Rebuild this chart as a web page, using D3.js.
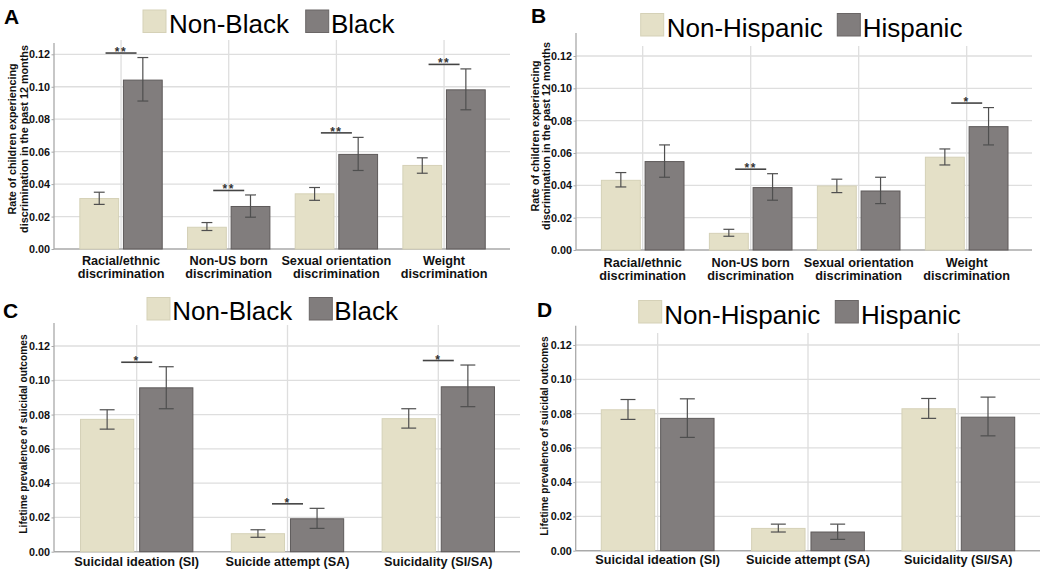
<!DOCTYPE html>
<html>
<head>
<meta charset="utf-8">
<script src="https://cdn.jsdelivr.net/npm/d3@7"></script>
<style>
  html, body { margin: 0; padding: 0; background: #fff; }
  svg { display: block; font-family: "Liberation Sans", Arial, Helvetica, sans-serif; }
</style>
</head>
<body>
<svg id="chart" width="1050" height="575"></svg>
<script>
// ---------------- DATA ----------------
const yTicks = [0, 0.02, 0.04, 0.06, 0.08, 0.10, 0.12];

const catsDiscrim = [
  ["Racial/ethnic", "discrimination"],
  ["Non-US born", "discrimination"],
  ["Sexual orientation", "discrimination"],
  ["Weight", "discrimination"]
];
const catsSuicide = [
  ["Suicidal ideation (SI)"],
  ["Suicide attempt (SA)"],
  ["Suicidality (SI/SA)"]
];

const seriesBlack = ["Non-Black", "Black"];
const seriesHisp = ["Non-Hispanic", "Hispanic"];

// Panel A
const aNonBlack    = [0.0311, 0.0134, 0.0340, 0.0515];
const aNonBlackLo  = [0.0275, 0.0114, 0.0300, 0.0467];
const aNonBlackHi  = [0.0350, 0.0163, 0.0379, 0.0562];
const aBlack       = [0.1041, 0.0262, 0.0583, 0.0981];
const aBlackLo     = [0.0912, 0.0196, 0.0484, 0.0858];
const aBlackHi     = [0.1180, 0.0333, 0.0688, 0.1110];
const aSig         = ["**", "**", "**", "**"];

// Panel B
const bNonHisp     = [0.0431, 0.0103, 0.0396, 0.0574];
const bNonHispLo   = [0.0390, 0.0085, 0.0355, 0.0526];
const bNonHispHi   = [0.0479, 0.0128, 0.0438, 0.0625];
const bHisp        = [0.0547, 0.0386, 0.0365, 0.0763];
const bHispLo      = [0.0450, 0.0308, 0.0287, 0.0650];
const bHispHi      = [0.0650, 0.0472, 0.0450, 0.0881];
const bSig         = ["", "**", "", "*"];

// Panel C
const cNonBlack    = [0.0772, 0.0105, 0.0776];
const cNonBlackLo  = [0.0715, 0.0084, 0.0721];
const cNonBlackHi  = [0.0828, 0.0128, 0.0834];
const cBlack       = [0.0956, 0.0192, 0.0962];
const cBlackLo     = [0.0834, 0.0136, 0.0846];
const cBlackHi     = [0.1079, 0.0253, 0.1089];
const cSig         = ["*", "*", "*"];

// Panel D
const dNonHisp     = [0.0822, 0.0130, 0.0828];
const dNonHispLo   = [0.0766, 0.0109, 0.0772];
const dNonHispHi   = [0.0882, 0.0155, 0.0888];
const dHisp        = [0.0772, 0.0109, 0.0779];
const dHispLo      = [0.0661, 0.0066, 0.0670];
const dHispHi      = [0.0886, 0.0155, 0.0896];
const dSig         = ["", "", ""];

const yTitleDiscrim = ["Rate of children experiencing", "discrimination in the past 12 months"];
const yTitleSuicide = ["Lifetime prevalence of suicidal outcomes"];

// ---------------- STYLE ----------------
const COL_LIGHT = "#e4e0c7", COL_LIGHT_STROKE = "#d5d1b7";
const COL_DARK = "#817d7d", COL_DARK_STROKE = "#5e5a5a";
const GRID = "#dedede", AXIS = "#a9a9a9", ERR = "#4f4f4f";

const svg = d3.select("#chart");

function build(vals, lo, hi) {
  return vals.map((v, i) => ({ v: v, lo: lo[i], hi: hi[i] }));
}

function drawPanel(p) {
  const g = svg.append("g");
  const y = d3.scaleLinear().domain([0, 0.12]).range([p.y0, p.y12]);
  const x = d3.scaleBand().domain(d3.range(p.cats.length)).range(p.xRange).padding(0);
  const gw = x.bandwidth() * p.groupFrac;
  const x1 = d3.scaleBand().domain([0, 1]).range([-gw / 2, gw / 2]).paddingInner(p.inner);

  // horizontal grid
  g.append("g").selectAll("line").data(yTicks.slice(1)).join("line")
    .attr("x1", p.axisX).attr("x2", p.right)
    .attr("y1", d => y(d)).attr("y2", d => y(d))
    .attr("stroke", GRID).attr("stroke-width", 1.3);
  // vertical grid
  g.append("g").selectAll("line").data(d3.range(p.cats.length)).join("line")
    .attr("x1", d => x(d) + x.bandwidth() / 2).attr("x2", d => x(d) + x.bandwidth() / 2)
    .attr("y1", p.gridTop).attr("y2", p.y0)
    .attr("stroke", GRID).attr("stroke-width", 1.3);

  // y axis
  const yAxis = d3.axisLeft(y).tickValues(yTicks).tickFormat(d3.format(".2f")).tickSize(2.5).tickPadding(1.5);
  const ya = g.append("g").attr("transform", `translate(${p.axisX},0)`).call(yAxis);
  ya.select(".domain").remove();
  ya.selectAll(".tick line").attr("stroke", AXIS);
  ya.selectAll(".tick text").attr("font-size", 10.8).attr("font-weight", "bold").attr("fill", "#111")
    .attr("font-family", "'Liberation Sans', Arial, sans-serif");
  g.append("line").attr("x1", p.axisX).attr("x2", p.axisX).attr("y1", p.axisTop).attr("y2", p.y0)
    .attr("stroke", AXIS).attr("stroke-width", 1.3);
  g.append("line").attr("x1", p.axisX).attr("x2", p.right).attr("y1", p.y0).attr("y2", p.y0)
    .attr("stroke", AXIS).attr("stroke-width", 1.5);

  const series = [build(p.s0, p.s0lo, p.s0hi), build(p.s1, p.s1lo, p.s1hi)];
  const fills = [COL_LIGHT, COL_DARK], strokes = [COL_LIGHT_STROKE, COL_DARK_STROKE];
  series.forEach((sd, si) => {
    const gs = g.append("g");
    const bw = x1.bandwidth();
    const cx = i => x(i) + x.bandwidth() / 2 + x1(si);
    gs.selectAll("rect").data(sd).join("rect")
      .attr("x", (d, i) => cx(i)).attr("width", bw)
      .attr("y", d => y(d.v)).attr("height", d => p.y0 - y(d.v))
      .attr("fill", fills[si]).attr("stroke", strokes[si]).attr("stroke-width", 1);
    const cap = bw * 0.28;
    const eb = gs.selectAll("g.eb").data(sd).join("g").attr("class", "eb");
    eb.append("line").attr("x1", (d, i) => cx(i) + bw / 2).attr("x2", (d, i) => cx(i) + bw / 2)
      .attr("y1", d => y(d.lo)).attr("y2", d => y(d.hi)).attr("stroke", ERR).attr("stroke-width", 1.2);
    eb.append("line").attr("x1", (d, i) => cx(i) + bw / 2 - cap / 2).attr("x2", (d, i) => cx(i) + bw / 2 + cap / 2)
      .attr("y1", d => y(d.lo)).attr("y2", d => y(d.lo)).attr("stroke", ERR).attr("stroke-width", 1.2);
    eb.append("line").attr("x1", (d, i) => cx(i) + bw / 2 - cap / 2).attr("x2", (d, i) => cx(i) + bw / 2 + cap / 2)
      .attr("y1", d => y(d.hi)).attr("y2", d => y(d.hi)).attr("stroke", ERR).attr("stroke-width", 1.2);
  });

  // significance
  const sigData = p.sig.map((s, i) => ({ s: s, i: i, top: Math.max(p.s0hi[i], p.s1hi[i]) })).filter(d => d.s);
  const sg = g.append("g").selectAll("g").data(sigData).join("g");
  sg.append("line")
    .attr("x1", d => x(d.i) + x.bandwidth() / 2 - 15.5).attr("x2", d => x(d.i) + x.bandwidth() / 2 + 15.5)
    .attr("y1", d => y(d.top) - 4.5).attr("y2", d => y(d.top) - 4.5)
    .attr("stroke", "#444").attr("stroke-width", 1.6);
  sg.append("text")
    .attr("x", d => x(d.i) + x.bandwidth() / 2).attr("y", d => y(d.top) - 4.5 + 3)
    .attr("text-anchor", "middle").attr("font-size", 12).attr("font-weight", "bold")
    .attr("letter-spacing", 1.5).attr("fill", "#333").text(d => d.s);

  // x labels
  const xl = g.append("g").selectAll("text").data(p.cats).join("text")
    .attr("x", (d, i) => x(i) + x.bandwidth() / 2).attr("y", p.xlabY)
    .attr("text-anchor", "middle").attr("font-size", 12.7).attr("font-weight", "bold").attr("fill", "#111");
  xl.selectAll("tspan").data(d => d).join("tspan")
    .attr("x", function () { return d3.select(this.parentNode).attr("x"); })
    .attr("dy", (d, j) => j === 0 ? 0 : 13).text(d => d);

  // y title
  const yt = g.append("text").attr("transform", `translate(${p.ytX},${p.ytY}) rotate(-90)`)
    .attr("text-anchor", "middle").attr("font-size", p.ytSize).attr("font-weight", "bold").attr("fill", "#111");
  yt.selectAll("tspan").data(p.yTitle).join("tspan").attr("x", 0)
    .attr("dy", (d, j) => j === 0 ? 0 : p.ytGap).text(d => d);

  // panel letter
  g.append("text").attr("x", p.letterX).attr("y", p.letterY).attr("font-size", 21)
    .attr("font-weight", "bold").attr("fill", "#000").text(p.letter);

  // legend
  const lg = g.append("g");
  p.series.forEach((name, si) => {
    lg.append("rect").attr("x", p.legSw[si]).attr("y", p.legY).attr("width", 23).attr("height", 22.5)
      .attr("fill", fills[si]).attr("stroke", si === 0 ? COL_LIGHT_STROKE : "#6a6666").attr("stroke-width", 1);
    lg.append("text").attr("x", p.legTx[si]).attr("y", p.legBase).attr("font-size", 26)
      .attr("fill", "#000").text(name);
  });
}

drawPanel({
  letter: "A", letterX: 4, letterY: 24,
  cats: catsDiscrim, series: seriesBlack,
  s0: aNonBlack, s0lo: aNonBlackLo, s0hi: aNonBlackHi,
  s1: aBlack, s1lo: aBlackLo, s1hi: aBlackHi, sig: aSig,
  axisX: 54, right: 510, y0: 249, y12: 54.3, axisTop: 43, gridTop: 40,
  xRange: [67.2, 497.9], groupFrac: 0.765, inner: 0.11,
  xlabY: 265, yTitle: yTitleDiscrim, ytX: 15.5, ytY: 139, ytSize: 10.8, ytGap: 12,
  legSw: [143, 305.7], legTx: [169, 331], legY: 10, legBase: 33
});
drawPanel({
  letter: "B", letterX: 531, letterY: 23,
  cats: catsDiscrim, series: seriesHisp,
  s0: bNonHisp, s0lo: bNonHispLo, s0hi: bNonHispHi,
  s1: bHisp, s1lo: bHispLo, s1hi: bHispHi, sig: bSig,
  axisX: 576, right: 1032, y0: 250, y12: 56, axisTop: 33, gridTop: 46,
  xRange: [588.7, 1020.7], groupFrac: 0.765, inner: 0.11,
  xlabY: 267, yTitle: yTitleDiscrim, ytX: 539, ytY: 136, ytSize: 10.8, ytGap: 10.5,
  legSw: [640.7, 837.3], legTx: [666.7, 862.7], legY: 13.5, legBase: 36.5
});
drawPanel({
  letter: "C", letterX: 3, letterY: 318,
  cats: catsSuicide, series: seriesBlack,
  s0: cNonBlack, s0lo: cNonBlackLo, s0hi: cNonBlackHi,
  s1: cBlack, s1lo: cBlackLo, s1hi: cBlackHi, sig: cSig,
  axisX: 54, right: 520, y0: 551.7, y12: 346, axisTop: 323, gridTop: 325,
  xRange: [61.3, 513.7], groupFrac: 0.745, inner: 0.1,
  xlabY: 566, yTitle: yTitleSuicide, ytX: 27, ytY: 434, ytSize: 10.2, ytGap: 12,
  legSw: [147, 309.3], legTx: [172.3, 334.3], legY: 297.5, legBase: 320
});
drawPanel({
  letter: "D", letterX: 537, letterY: 317,
  cats: catsSuicide, series: seriesHisp,
  s0: dNonHisp, s0lo: dNonHispLo, s0hi: dNonHispHi,
  s1: dHisp, s1lo: dHispLo, s1hi: dHispHi, sig: dSig,
  axisX: 575.7, right: 1040, y0: 550.7, y12: 345, axisTop: 325.7, gridTop: 333,
  xRange: [582.5, 1033.5], groupFrac: 0.75, inner: 0.1,
  xlabY: 564, yTitle: yTitleSuicide, ytX: 548, ytY: 436, ytSize: 10.2, ytGap: 12,
  legSw: [638.7, 835.3], legTx: [664.3, 861], legY: 300.5, legBase: 324
});
</script>
</body>
</html>
